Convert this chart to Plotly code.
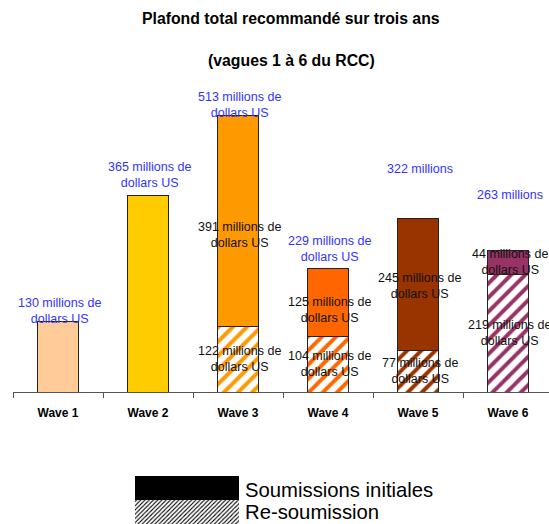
import plotly.graph_objects as go

# ---- data ----
waves = ["Wave 1", "Wave 2", "Wave 3", "Wave 4", "Wave 5", "Wave 6"]
initial = [130, 365, 391, 125, 245, 44]
resub = [None, None, 122, 104, 77, 219]
totals = [130, 365, 513, 229, 322, 263]
total_labels = ["130 millions de<br>dollars US", "365 millions de<br>dollars US",
                "513 millions de<br>dollars US", "229 millions de<br>dollars US",
                "322 millions", "263 millions"]
initial_labels = [None, None, "391 millions de<br>dollars US", "125 millions de<br>dollars US",
                  "245 millions de<br>dollars US", "44 millions de<br>dollars US"]
resub_labels = [None, None, "122 millions de<br>dollars US", "104 millions de<br>dollars US",
                "77 millions de<br>dollars US", "219 millions de<br>dollars US"]
legend_names = ["Re-soumission", "Soumissions initiales"]

# ---- styles ----
colors = ["#FFCC99", "#FFCC00", "#FF9900", "#FF6600", "#993300", "#993366"]
total_shift = [11, 20, 10.5, 19.5, 50, 55]          # px above bar top
initial_shift = [0, 0, -14, -8, -1, 0]               # px offset from segment middle
FONT = "Liberation Sans, Arial, sans-serif"
BAR_W = 0.456

fig = go.Figure()

fig.add_trace(go.Bar(
    x=waves, y=resub, width=BAR_W,
    marker=dict(color="white",
                line=dict(color="#222222", width=1),
                pattern=dict(shape="/", size=10, solidity=0.4,
                             fgcolor=colors, bgcolor="white", fillmode="replace")),
    showlegend=False, hoverinfo="skip"))
fig.add_trace(go.Bar(
    x=waves, y=initial, width=BAR_W,
    marker=dict(color=colors, line=dict(color="#222222", width=1)),
    showlegend=False, hoverinfo="skip"))

# legend boxes on their own small axes
fig.add_trace(go.Bar(
    y=[legend_names[0]], x=[1], orientation="h", width=1, xaxis="x2", yaxis="y2",
    marker=dict(color="white", line=dict(width=0),
                pattern=dict(shape="/", size=3, solidity=0.35,
                             fgcolor="black", bgcolor="white", fillmode="replace")),
    showlegend=False, hoverinfo="skip"))
fig.add_trace(go.Bar(
    y=[legend_names[1]], x=[1], orientation="h", width=1, xaxis="x2", yaxis="y2",
    marker=dict(color="black", line=dict(width=0)),
    showlegend=False, hoverinfo="skip"))

ann = []
for i, w in enumerate(waves):
    ann.append(dict(x=w, y=totals[i], xref="x", yref="y", text=total_labels[i],
                    showarrow=False, yanchor="middle", yshift=total_shift[i], xshift=1.5,
                    font=dict(family=FONT, size=12.5, color="#3333FF")))
    base = resub[i] or 0
    if initial_labels[i]:
        ann.append(dict(x=w, y=base + initial[i] / 2, xref="x", yref="y",
                        text=initial_labels[i], showarrow=False, yanchor="middle",
                        yshift=initial_shift[i], xshift=1.5,
                        font=dict(family=FONT, size=12.5, color="#111111")))
    if resub_labels[i]:
        ann.append(dict(x=w, y=base / 2, xref="x", yref="y",
                        text=resub_labels[i], showarrow=False, yanchor="middle", xshift=1.5,
                        font=dict(family=FONT, size=12.5, color="#111111")))

# titles
ann.append(dict(x=0.5187, y=(524 - 19) / 444, xref="paper", yref="paper",
                text="<b>Plafond total recommandé sur trois ans</b>", showarrow=False,
                yanchor="middle", font=dict(family=FONT, size=15.8, color="black")))
ann.append(dict(x=0.5187, y=(524 - 60) / 444, xref="paper", yref="paper",
                text="<b>(vagues 1 à 6 du RCC)</b>", showarrow=False,
                yanchor="middle", font=dict(family=FONT, size=15.8, color="black")))
# legend texts
ann.append(dict(x=(243 - 13) / 536, y=(524 - 490) / 444, xref="paper", yref="paper",
                text=legend_names[1], showarrow=False, xanchor="left", yanchor="middle",
                font=dict(family=FONT, size=20.3, color="black")))
ann.append(dict(x=(243 - 13) / 536, y=(524 - 512) / 444, xref="paper", yref="paper",
                text=legend_names[0], showarrow=False, xanchor="left", yanchor="middle",
                font=dict(family=FONT, size=20.3, color="black")))

fig.update_layout(
    width=549, height=524,
    margin=dict(l=13, r=0, t=80, b=0),
    paper_bgcolor="white", plot_bgcolor="white",
    barmode="stack",
    showlegend=False,
    font=dict(family=FONT),
    annotations=ann,
    xaxis=dict(range=[-0.5, -0.5 + 536 / 90], showline=True, linecolor="#555555", linewidth=1,
               ticks="outside", tickson="boundaries", ticklen=5, tickcolor="#555555",
               showgrid=False, ticklabelstandoff=10,
               tickfont=dict(family=FONT, size=12, color="black"),
               tickprefix="<b>", ticksuffix="</b>"),
    yaxis=dict(range=[0, 312 / 0.5385], domain=[132 / 444, 1], visible=False,
               showgrid=False, zeroline=False),
    xaxis2=dict(domain=[(135 - 13) / 536, (239 - 13) / 536], range=[0, 1], visible=False,
                anchor="y2"),
    yaxis2=dict(domain=[0, (524 - 476) / 444], range=[-0.5, 1.5], visible=False,
                anchor="x2", categoryorder="array", categoryarray=legend_names),
)

fig.write_html("out.html", config={"displayModeBar": False, "staticPlot": True},
               post_script="document.body.style.margin='0px';document.body.style.overflow='hidden';")
